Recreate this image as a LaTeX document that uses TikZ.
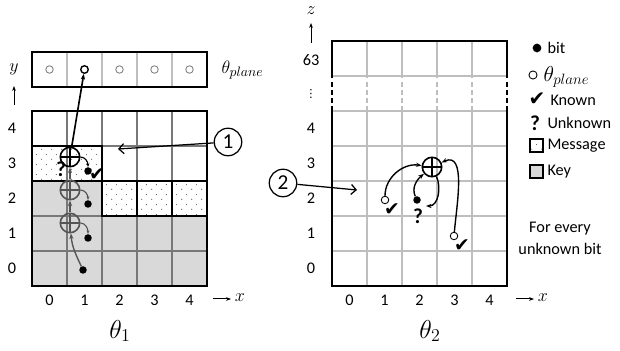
\documentclass[tikz,border=0pt]{standalone}
\usepackage{fontspec}
\setmainfont{Carlito}
\newfontfamily\symfont{DejaVu Sans}
\usepackage{xcolor}
\usepackage{tikz}
\usetikzlibrary{arrows.meta, positioning, patterns, calc}
\definecolor{keygray}{RGB}{217,217,217}
\definecolor{gridgray}{RGB}{120,120,120}
\definecolor{lightgrid}{RGB}{190,190,190}
\definecolor{chaingray}{RGB}{85,85,85}
\pgfdeclarepatternformonly{msgdots}{\pgfpointorigin}{\pgfpoint{8pt}{8pt}}{\pgfpoint{8pt}{8pt}}{%
  \pgfpathcircle{\pgfpoint{1.5pt}{1.5pt}}{0.45pt}%
  \pgfpathcircle{\pgfpoint{5.5pt}{5.5pt}}{0.45pt}%
  \pgfusepath{fill}}

\begin{document}
\begin{tikzpicture}[
        x=0.8pt, y=0.8pt,
        lbl/.style={font=\fontsize{13}{15}\selectfont, inner sep=1pt},
        axis/.style={font=\fontsize{15}{17}\selectfont, inner sep=1pt},
        msgfill/.style={fill=white, postaction={pattern=msgdots, pattern color=black!65}},
        innerline/.style={draw=gridgray, line width=0.9pt},
        lightline/.style={draw=lightgrid, line width=0.9pt},
        boxline/.style={draw=black, line width=1.6pt},
        bitdot/.style={circle, fill=black, inner sep=0pt, minimum size=6pt},
        planedot/.style={circle, draw=black, fill=white, line width=0.7pt,
                         inner sep=0pt, minimum size=6pt},
        xorop/.style={circle, draw, line width=1.3pt, minimum size=15.5pt, inner sep=0pt,
                      path picture={\draw[line width=1.2pt]
                        (path picture bounding box.north) -- (path picture bounding box.south)
                        (path picture bounding box.west) -- (path picture bounding box.east);}},
        callout/.style={circle, draw, line width=1pt, minimum size=22pt, inner sep=0pt,
                        font=\fontsize{17}{19}\selectfont},
        pointer/.style={-{Straight Barb[length=4pt]}, line width=1pt},
        flow/.style={-{Stealth[length=4.5pt]}, line width=1.1pt},
        knownmark/.style={font=\symfont\fontsize{15}{15}\selectfont, inner sep=0pt},
        unknownmark/.style={font=\bfseries\fontsize{17}{17}\selectfont, inner sep=0pt}
      ]
        \useasboundingbox (0,0) rectangle (620,351);
        % theta_1: key and message fills
        \fill[keygray] (32,65) rectangle (207,135);
        \fill[keygray] (32,135) rectangle (102,170);
        \foreach \i in {2,3,4}
          \fill[msgfill] ({32+35*\i},135) rectangle ++(35,35);
        \fill[msgfill] (32,170) rectangle (102,205);
        % theta_1: grid
        \foreach \i in {1,...,4} {
          \draw[innerline] ({32+35*\i},65) -- ++(0,175);
          \draw[innerline] (32,{65+35*\i}) -- ++(175,0);
        }
        \foreach \i in {2,3,4}
          \draw[boxline] ({32+35*\i},135) rectangle ++(35,35);
        \draw[boxline] (32,170) rectangle (102,205);
        \draw[boxline] (32,65) rectangle (207,240);
        % theta_plane row
        \foreach \i in {1,...,4}
          \draw[lightline] ({32+35*\i},264) -- ++(0,35);
        \draw[boxline] (32,264) rectangle (207,299);
        \foreach \i in {0,2,3,4}
          \node[planedot, draw=gray] (pl\i) at ({49.5+35*\i},281.5) {};
        \node[planedot, line width=1.1pt] (pl1) at (84.5,281.5) {};
        \node[axis, anchor=west] (plname) at (220,281) {$\theta_{plane}$};
        % theta_1: labels
        \foreach \j in {0,...,4}
          \node[lbl] (ly\j) at (12,{82.5+35*\j}) {\j};
        \foreach \i in {0,...,4}
          \node[lbl] (lx\i) at ({49.5+35*\i},51) {\i};
        \node[axis] (yname) at (14,282) {$y$};
        \coordinate (ytail) at (14,246);
        \coordinate (yhead) at (14,265);
        \draw[-{Stealth[length=4pt]}, line width=0.8pt] (ytail) -- (yhead);
        \coordinate (xtail1) at (213,52);
        \coordinate (xhead1) at (231,52);
        \draw[-{Stealth[length=4pt]}, line width=0.8pt] (xtail1) -- (xhead1);
        \node[axis] (xname1) at (240,53) {$x$};
        \node[font=\fontsize{20}{24}\selectfont] (th1) at (120,20) {$\theta_1$};
        % theta_1: xor chain
        \node[bitdot] (b0) at (83,81) {};
        \node[xorop, draw=chaingray] (x1) at (70,128) {};
        \node[bitdot] (b1) at (88,113) {};
        \node[xorop, draw=chaingray] (x2) at (70,161) {};
        \node[bitdot] (b2) at (88,147) {};
        \node[xorop] (x3) at (70,194) {};
        \node[bitdot] (b3) at (88,180) {};
        \node[unknownmark] (q3) at (61,182) {?};
        \node[knownmark] (k3) at (97,176) {✔};
        \draw[flow, chaingray] (b0) to[out=115, in=-85] (x1);
        \draw[flow, chaingray] (x1) -- (x2);
        \draw[flow, chaingray] (x2) -- (x3);
        \draw[flow, line width=1.3pt] (x3) -- (pl1);
        \draw[-{Stealth[length=3pt]}, line width=0.9pt, chaingray] (x1.east) to[out=0, in=90] (b1);
        \draw[-{Stealth[length=3pt]}, line width=0.9pt, chaingray] (x2.east) to[out=0, in=90] (b2);
        \draw[-{Stealth[length=3pt]}, line width=0.9pt] (x3.east) to[out=0, in=90] (b3);
        % callout 1
        \node[callout] (c1) at (228,209) {1};
        \coordinate (t1) at (118,202);
        \draw[pointer] (c1) -- (t1);
        % theta_2: grid
        \foreach \j in {1,...,6}
          \draw[lightline] (332,{65+35*\j}) -- ++(175,0);
        \foreach \i in {1,...,4} {
          \draw[lightline] ({332+35*\i},65) -- ++(0,175);
          \draw[lightline, dash pattern=on 4pt off 2.5pt] ({332+35*\i},240) -- ++(0,35);
          \draw[lightline] ({332+35*\i},275) -- ++(0,35);
        }
        \draw[boxline] (332,240) -- (332,65) -- (507,65) -- (507,240);
        \draw[boxline] (332,275) -- (332,310) -- (507,310) -- (507,275);
        \draw[boxline, dash pattern=on 4pt off 2.5pt] (332,240) -- (332,275) (507,240) -- (507,275);
        % theta_2: labels
        \foreach \j in {0,...,4}
          \node[lbl] (lz\j) at (311,{82.5+35*\j}) {\j};
        \node[inner sep=0pt, font=\symfont\fontsize{9}{9}\selectfont] (lzdots) at (311,257) {⋮};
        \node[lbl] (lz63) at (311,291) {63};
        \foreach \i in {0,...,4}
          \node[lbl] (mx\i) at ({349.5+35*\i},51) {\i};
        \node[axis] (zname) at (311,340) {$z$};
        \coordinate (ztail) at (311,308);
        \coordinate (zhead) at (311,328);
        \draw[-{Stealth[length=4pt]}, line width=0.8pt] (ztail) -- (zhead);
        \coordinate (xtail2) at (516,52);
        \coordinate (xhead2) at (534,52);
        \draw[-{Stealth[length=4pt]}, line width=0.8pt] (xtail2) -- (xhead2);
        \node[axis] (xname2) at (543,53) {$x$};
        \node[font=\fontsize{20}{24}\selectfont] (th2) at (430,20) {$\theta_2$};
        % theta_2: one unknown bit
        \node[xorop] (xr) at (432,184) {};
        \node[planedot] (kb1) at (385,151) {};
        \node[knownmark] (ck1) at (392,141) {✔};
        \node[bitdot] (ub) at (417,151) {};
        \node[unknownmark] (uq) at (418,135) {?};
        \node[planedot] (kb3) at (454,115) {};
        \node[knownmark] (ck3) at (462,105) {✔};
        \coordinate (uo) at (426,145);
        \draw[flow] (kb1) to[out=90, in=172] (xr);
        \draw[flow] (ub) to[out=115, in=220] (xr);
        \draw[flow] (xr) to[out=-65, in=0] (uo);
        \draw[flow] (kb3) to[out=85, in=25] (xr);
        % callout 2
        \node[callout] (c2) at (283,168) {2};
        \coordinate (t2) at (357,161);
        \draw[pointer] (c2) -- (t2);
        % legend
        \node[bitdot, minimum size=7pt] (lgbit) at (537,303) {};
        \node[lbl, anchor=west] (lgbittxt) at (546,303) {bit};
        \node[planedot, minimum size=6.5pt] (lgplane) at (533,276) {};
        \node[axis, anchor=west, font=\fontsize{17}{19}\selectfont] (lgplanetxt) at (542,274) {$\theta_{plane}$};
        \node[knownmark, font=\symfont\fontsize{16}{16}\selectfont] (lgknown) at (537,252) {✔};
        \node[lbl, anchor=west] (lgknowntxt) at (549,251) {Known};
        \node[unknownmark] (lgunk) at (535,228) {?};
        \node[lbl, anchor=west] (lgunktxt) at (546,228) {Unknown};
        \fill[msgfill] (530,199) rectangle (543,212);
        \draw[line width=1.3pt] (530,199) rectangle (543,212);
        \node[lbl, anchor=west] (lgmsgtxt) at (546,205) {Message};
        \filldraw[fill=keygray, line width=1.3pt] (530,173) rectangle (543,186);
        \node[lbl, anchor=west] (lgkeytxt) at (546,179) {Key};
        \node[font=\fontsize{13}{17.5}\selectfont, align=center] (note) at (560,113)
          {For every\\unknown bit};
      \end{tikzpicture}
\end{document}
